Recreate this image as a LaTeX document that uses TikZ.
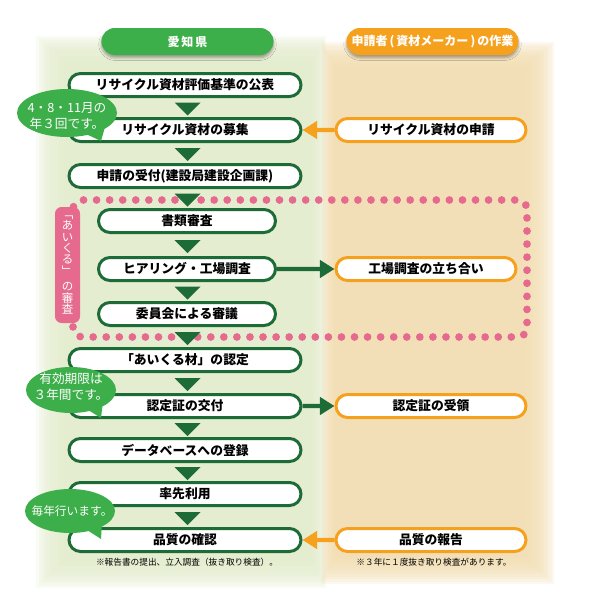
\documentclass[tikz,border=0pt]{standalone}
\usepackage{fontspec}
\setmainfont{Noto Sans CJK JP}
\usetikzlibrary{shapes.misc,arrows.meta,calc,shadows.blur}
\definecolor{ken}{HTML}{3CAE4A}
\definecolor{kendk}{HTML}{1D6B36}
\definecolor{maker}{HTML}{F5A11E}
\definecolor{aicle}{HTML}{E66A8D}
\definecolor{kenbg}{HTML}{E3ECCD}
\definecolor{makerbg}{HTML}{F2DDB2}
\tikzset{
  soft shadow/.style={blur shadow={shadow xshift=0pt, shadow yshift=-2pt,
    shadow blur radius=2pt, shadow opacity=35}},
  head/.style={rounded rectangle, fill=#1, text=white, font=\fontsize{9}{10}\selectfont\bfseries,
    minimum width=135.75pt, minimum height=20.25pt, soft shadow},
  gbox/.style={rounded rectangle, draw=kendk, fill=white, line width=2.25pt,
    minimum width=174pt, minimum height=17.25pt, inner sep=0pt,
    font=\fontsize{9.6}{11}\selectfont\bfseries},
  gsub/.style={gbox, minimum width=132.75pt},
  obox/.style={gbox, draw=maker, minimum width=142.5pt},
  arr/.style={-{Triangle[length=11pt,width=13pt]}, line width=3.2pt, color=#1},
  bubtxt/.style={text=white, align=center, font=\fontsize{9.5}{12}\selectfont, inner sep=0pt},
  note/.style={font=\fontsize{6.5}{7}\selectfont, inner sep=0pt},
}
\begin{document}
\begin{tikzpicture}[x=0.75pt,y=-0.75pt]
  \useasboundingbox (0,0) rectangle (600,589);
  % soft panels
  \foreach \i in {0,...,11} {
    \fill[kenbg,opacity=.2] (36+2.5*\i,36+2.2*\i) rectangle (326-1.2*\i,588-2.5*\i);
    \fill[makerbg,opacity=.2] (321+1.2*\i,42+2.2*\i) rectangle (554-2.5*\i,584-2.5*\i);
  }
  \node[head=ken] (hken) at (187.5,41.5) {愛\,知\,県};
  \node[head=maker] (hmaker) at (432.5,41.5) {申請者\,(\,資材メーカー\,)\,の作業};
  % review frame
  \draw[aicle, line width=5.8pt, line cap=round, dash pattern=on 0pt off 9.8pt, rounded corners=7pt]
    (73,200) rectangle (527,337);
  % flow
  \node[gbox] (b1) at (185,85) {リサイクル資材評価基準の公表};
  \node[gbox] (b2) at (185,130) {リサイクル資材の募集};
  \node[gbox] (b3) at (185,176) {申請の受付(建設局建設企画課)};
  \node[gsub] (s1) at (187,221) {書類審査};
  \node[gsub] (s2) at (187,269) {ヒアリング・工場調査};
  \node[gsub] (s3) at (187,314) {委員会による審議};
  \node[gbox] (b4) at (185,360) {「あいくる材」の認定};
  \node[gbox] (b5) at (185,406) {認定証の交付};
  \node[gbox] (b6) at (185,450) {データベースへの登録};
  \node[gbox] (b7) at (185,494) {率先利用};
  \node[gbox] (b8) at (185,540) {品質の確認};
  \node[obox] (o1) at (431,130) {リサイクル資材の申請};
  \node[obox, minimum width=135pt] (o2) at (426,269) {工場調査の立ち合い};
  \node[obox] (o3) at (431,406) {認定証の受領};
  \node[obox] (o4) at (431,540) {品質の報告};
  \foreach \a/\b in {b1/b2,b2/b3,b3/s1,s1/s2,s2/s3,s3/b4,b4/b5,b5/b6,b6/b7,b7/b8} {
    \coordinate (m) at ($(\a.south)!.5!(\b.north)$);
    \fill[kendk] (187.5,0 |- m) ++(-13,-5) -- ++(26,0) -- ++(-13,13) -- cycle;
  }
  \draw[arr=maker] (o1) -- (b2);
  \draw[arr=kendk] (s2) -- (o2);
  \draw[arr=kendk] (b5) -- (o3);
  \draw[arr=maker] (o4) -- (b8);
  \node[note] (n1) at (187,562) {※報告書の提出、立入調査（抜き取り検査）。};
  \node[note] (n2) at (434,562) {※３年に１度抜き取り検査があります。};
  % review label
  \node[rounded corners=5pt, fill=aicle, text=white, minimum width=18.75pt, minimum height=87pt,
    inner sep=0pt, align=center, font=\fontsize{8.6}{8.6}\selectfont] (aicle) at (67.5,265)
    {﹁\\あ\\い\\く\\る\\﹂\\[3pt]の\\審\\査};
  % bubbles
  \fill[ken] (67,113) ellipse [x radius=50, y radius=24];
  \fill[ken] (86,134) -- (101,141) -- (105,127) -- cycle;
  \node[bubtxt] (bub1) at (67,116) {4・8・11月の\\年３回です。};
  \fill[ken] (71,390) ellipse [x radius=45, y radius=23];
  \fill[ken] (85,408) -- (101,418) -- (103,401) -- cycle;
  \node[bubtxt] (bub2) at (71,387) {有効期限は\\３年間です。};
  \fill[ken] (70,511) ellipse [x radius=45, y radius=22];
  \fill[ken] (84,528) -- (101,539) -- (102,522) -- cycle;
  \node[bubtxt, font=\fontsize{8.8}{11}\selectfont] (bub3) at (72,511) {毎年行います。};
\end{tikzpicture}
\end{document}
